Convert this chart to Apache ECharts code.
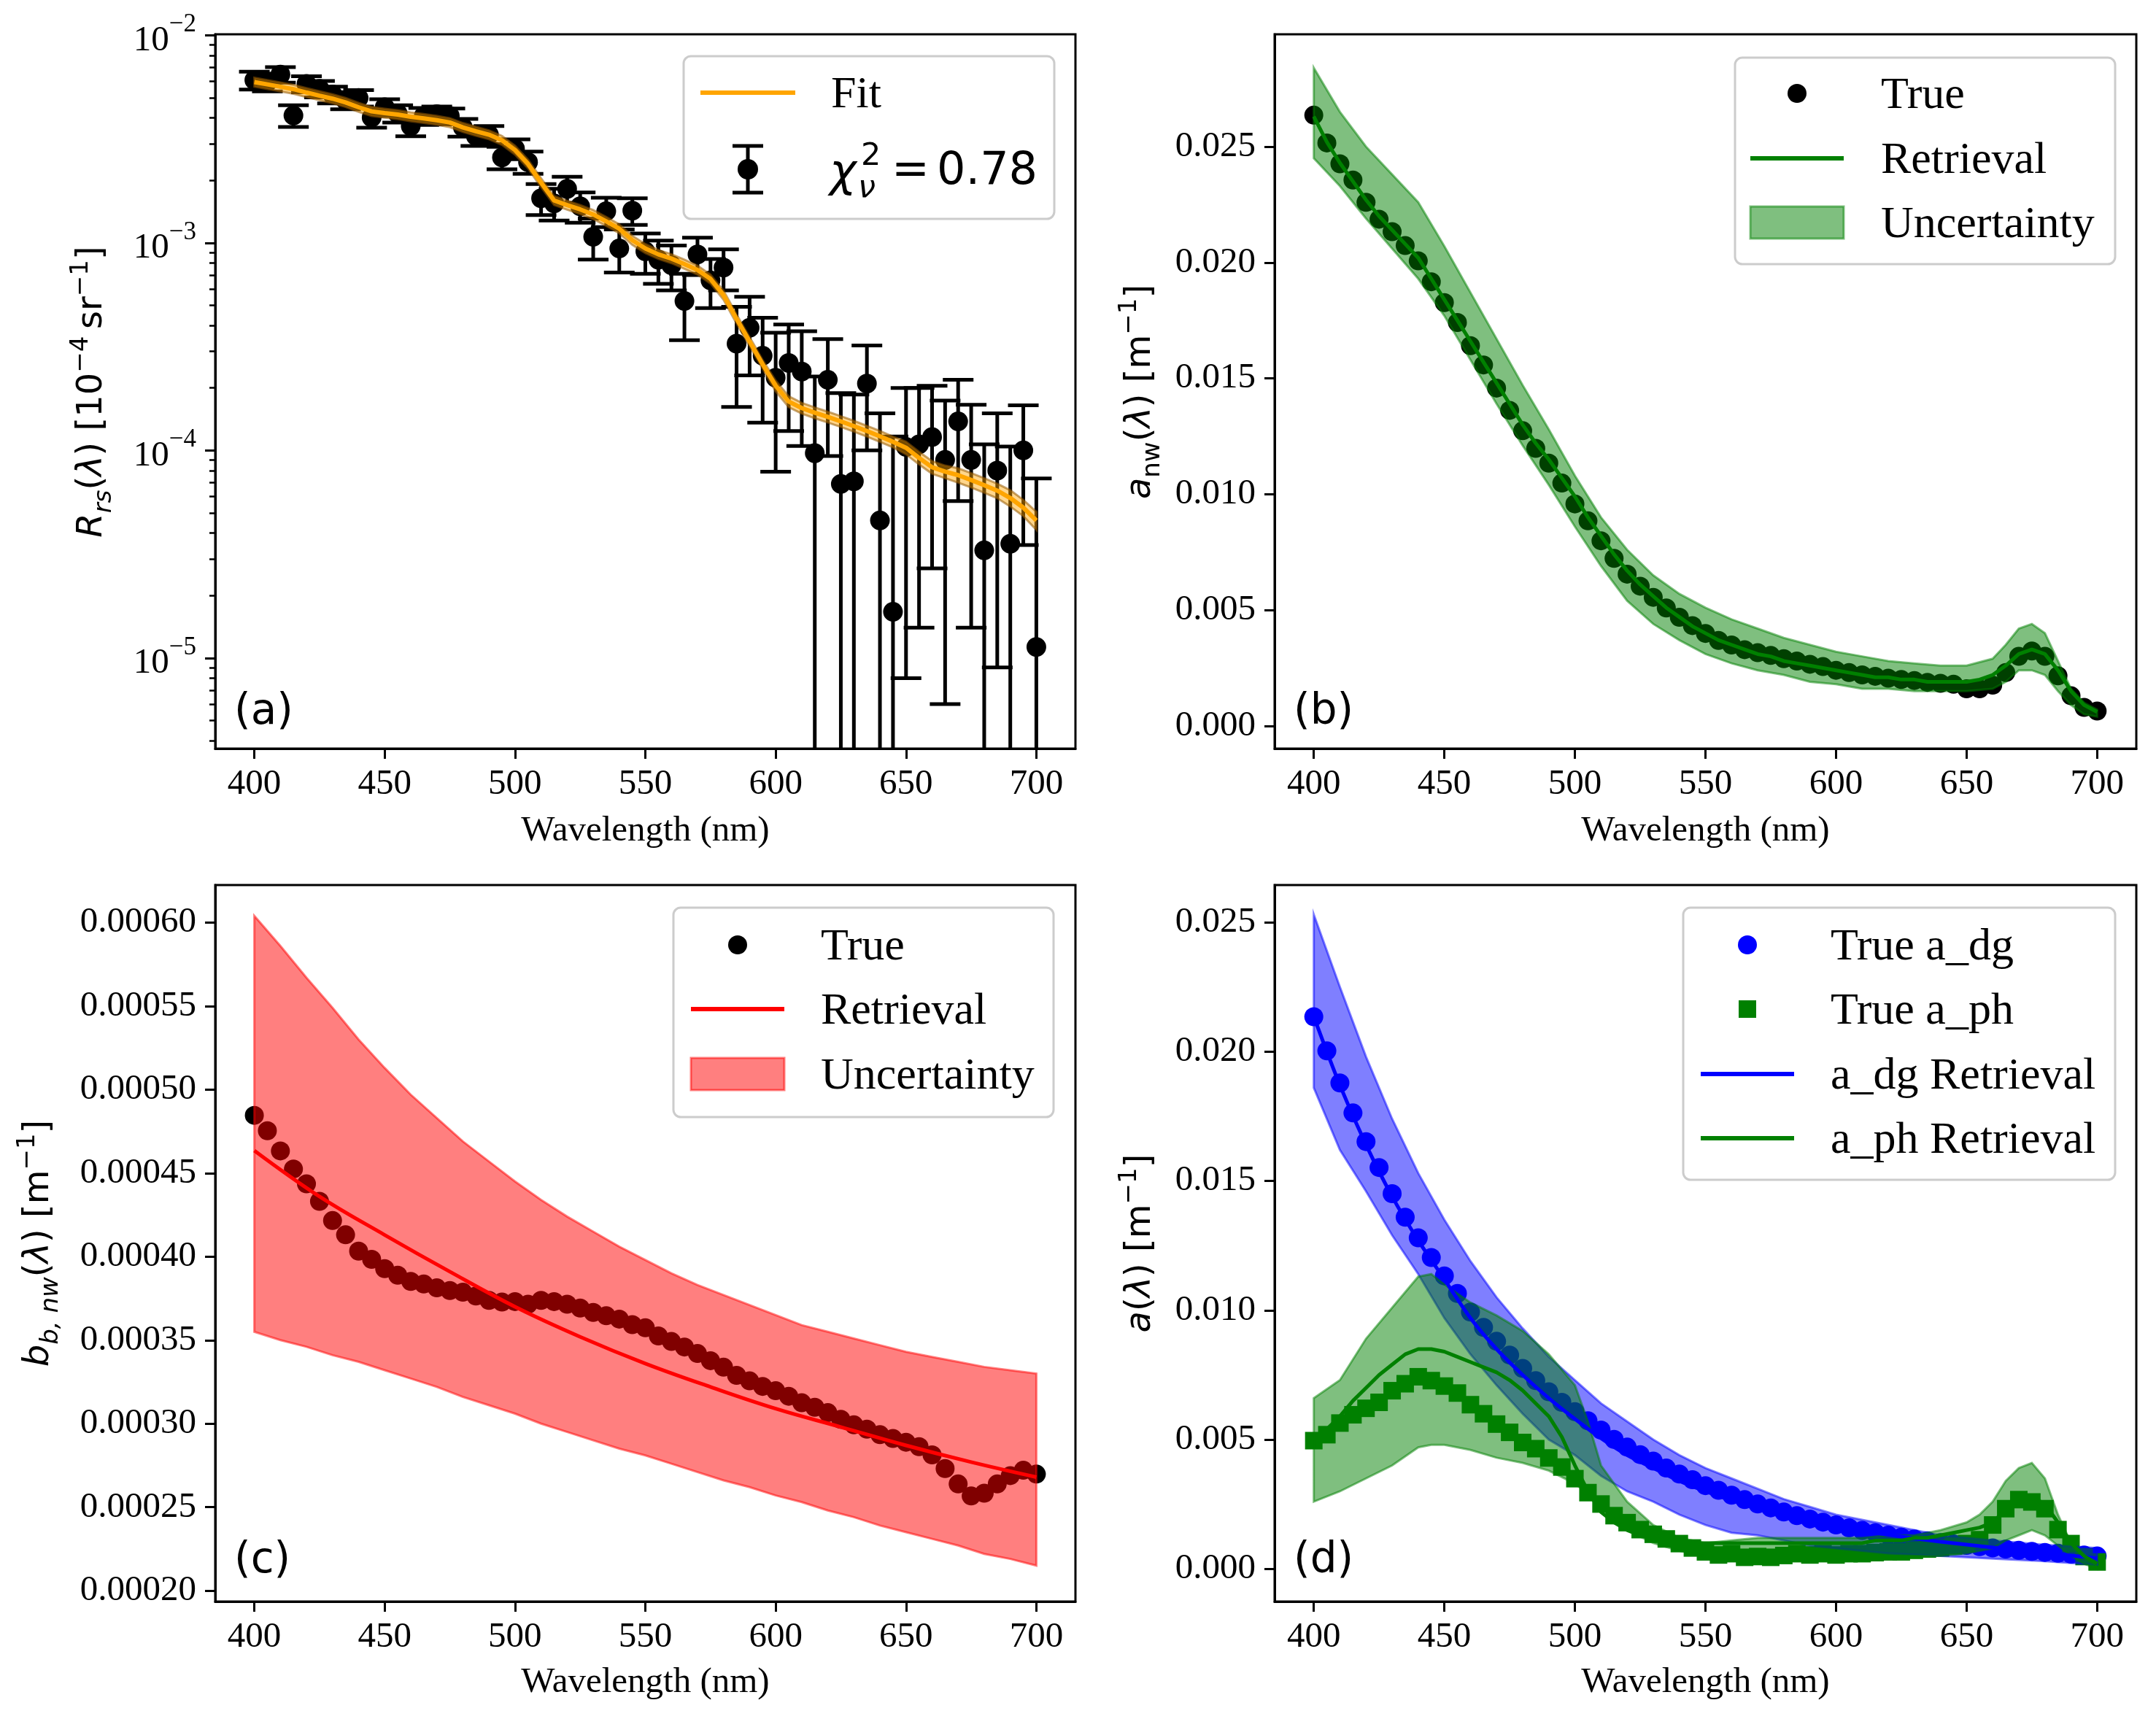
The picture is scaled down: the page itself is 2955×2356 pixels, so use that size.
<!DOCTYPE html>
<html><head><meta charset="utf-8">
<script src="https://cdn.jsdelivr.net/npm/echarts@6/dist/echarts.min.js"></script>
<style>html,body{margin:0;padding:0;background:#fff}#c{width:2955px;height:2356px}</style>
</head><body><div id="c"></div><script>
// ---------------- DATA ----------------
const wl = [400,405,410,415,420,425,430,435,440,445,
  450,455,460,465,470,475,480,485,490,495,
  500,505,510,515,520,525,530,535,540,545,
  550,555,560,565,570,575,580,585,590,595,
  600,605,610,615,620,625,630,635,640,645,
  650,655,660,665,670,675,680,685,690,695,
  700];

// (a) Rrs observations, 1-sigma errors, fit and relative fit band width
const rsObs = [6.08e-3,5.95e-3,6.47e-3,4.11e-3,5.83e-3,5.52e-3,5.18e-3,4.86e-3,4.99e-3,4.02e-3,
  4.50e-3,4.20e-3,3.65e-3,4.08e-3,4.17e-3,4.08e-3,3.60e-3,3.27e-3,3.32e-3,2.58e-3,
  2.84e-3,2.45e-3,1.64e-3,1.55e-3,1.82e-3,1.50e-3,1.07e-3,1.42e-3,9.4e-4,1.43e-3,
  9.1e-4,8.3e-4,7.8e-4,5.25e-4,8.8e-4,6.6e-4,7.6e-4,3.27e-4,3.9e-4,2.86e-4,
  2.24e-4,2.64e-4,2.4e-4,9.7e-5,2.19e-4,6.9e-5,7.1e-5,2.1e-4,4.6e-5,1.67e-5,
  1.04e-4,1.07e-4,1.16e-4,9.0e-5,1.38e-4,9.0e-5,3.3e-5,8.0e-5,3.55e-5,1.0e-4,
  1.13e-5];
const rsErr = [6.0e-4,5.8e-4,5.6e-4,4.9e-4,5.2e-4,5.0e-4,4.8e-4,4.6e-4,4.5e-4,4.3e-4,
  4.2e-4,4.0e-4,3.9e-4,3.8e-4,3.7e-4,3.6e-4,3.5e-4,3.4e-4,3.3e-4,3.2e-4,
  3.1e-4,3.0e-4,2.8e-4,2.7e-4,2.6e-4,2.5e-4,2.4e-4,2.3e-4,2.2e-4,2.1e-4,
  2.0e-4,1.95e-4,1.9e-4,1.85e-4,1.8e-4,1.75e-4,1.7e-4,1.65e-4,1.6e-4,1.5e-4,
  1.45e-4,1.4e-4,1.35e-4,1.3e-4,1.25e-4,1.2e-4,1.15e-4,1.1e-4,1.05e-4,1.0e-4,
  9.6e-5,9.3e-5,8.9e-5,8.4e-5,8.1e-5,7.6e-5,7.4e-5,7.1e-5,6.9e-5,6.5e-5,
  6.2e-5];
const rsFit = [5.95e-3,5.80e-3,5.65e-3,5.50e-3,5.30e-3,5.12e-3,4.95e-3,4.75e-3,4.50e-3,4.30e-3,
  4.22e-3,4.15e-3,4.05e-3,3.98e-3,3.90e-3,3.80e-3,3.60e-3,3.45e-3,3.32e-3,3.12e-3,
  2.80e-3,2.40e-3,1.95e-3,1.60e-3,1.52e-3,1.45e-3,1.37e-3,1.27e-3,1.17e-3,1.03e-3,
  9.4e-4,8.8e-4,8.4e-4,7.9e-4,7.4e-4,6.7e-4,5.6e-4,4.3e-4,3.35e-4,2.6e-4,
  2.05e-4,1.72e-4,1.60e-4,1.52e-4,1.45e-4,1.38e-4,1.31e-4,1.24e-4,1.17e-4,1.10e-4,
  1.03e-4,9.2e-5,8.3e-5,7.9e-5,7.6e-5,7.2e-5,6.8e-5,6.4e-5,5.9e-5,5.3e-5,
  4.6e-5];
const rsFitFrac = [0.05,0.05,0.05,0.05,0.05,0.05,0.05,0.05,0.05,0.05,
  0.05,0.05,0.05,0.05,0.05,0.05,0.05,0.05,0.05,0.05,
  0.05,0.05,0.05,0.05,0.05,0.05,0.05,0.05,0.05,0.05,
  0.05,0.05,0.05,0.05,0.05,0.05,0.05,0.05,0.05,0.05,
  0.06,0.06,0.06,0.06,0.06,0.06,0.06,0.06,0.06,0.06,
  0.07,0.07,0.07,0.07,0.08,0.08,0.08,0.08,0.09,0.09,
  0.10];

// (b) a_nw
const anwTrue = [.02636,.02516,.02426,.02356,.02260,.02187,.02133,.02073,.02007,.01917,
  .01827,.01741,.01641,.01558,.01458,.01362,.01274,.01198,.01134,.01048,
  .00958,.00885,.00799,.00723,.00655,.00603,.00555,.00509,.00469,.00433,
  .00399,.00369,.00349,.00329,.00316,.00304,.00290,.00280,.00266,.00256,
  .00240,.00230,.00220,.00214,.00206,.00200,.00196,.00188,.00184,.00180,
  .00160,.00160,.00176,.00230,.00300,.00323,.00300,.00216,.00130,.00080,
  .00064];
const anwRet = [.0263,.0252,.0243,.0235,.0227,.0220,.0214,.0208,.0202,.0193,
  .0184,.0175,.0166,.0157,.0148,.0139,.0130,.0122,.0115,.0107,
  .0099,.0090,.0082,.0074,.0067,.0061,.0056,.0051,.0047,.0043,
  .0040,.0037,.0035,.0033,.0031,.0030,.0028,.0027,.0026,.0025,
  .0024,.0023,.0022,.0021,.0021,.0020,.0020,.0019,.0019,.0019,
  .0019,.0020,.0022,.0026,.0031,.0033,.0031,.0024,.0015,.0009,
  .0006];
const anwBandWl = [400,410,420,430,440,450,460,470,480,490,500,510,520,530,540,550,560,570,580,590,600,610,620,630,640,650,
  660,665,670,675,680,685,690,695,700];
const anwUp = [.0284,.0265,.0250,.0238,.0226,.0207,.0187,.0167,.0147,.0128,.0108,.0090,.0076,.0065,.0057,.0051,.0046,.0042,.0038,.0035,.0032,.0030,.0028,.0027,.0026,.0026,
  .0029,.0035,.0042,.0044,.0040,.0028,.0016,.0010,.0007];
const anwLo = [.0245,.0233,.0219,.0206,.0193,.0177,.0158,.0139,.0121,.0104,.0086,.0069,.0054,.0044,.0037,.0031,.0027,.0024,.0022,.0019,.0018,.0016,.0016,.0015,.0015,.0015,
  .0016,.0019,.0024,.0024,.0022,.0015,.0009,.0005,.0004];

// (c) b_b,nw
const bbTrue = [.0004846,.0004754,.0004633,.0004525,.0004436,.0004331,.0004216,.0004131,.0004033,.0003984,
  .0003928,.0003889,.0003852,.0003836,.0003813,.0003797,.0003787,.0003764,.0003738,.0003728,
  .0003731,.0003715,.0003738,.0003731,.0003715,.0003692,.0003666,.0003646,.0003626,.0003593,
  .0003574,.0003525,.0003492,.0003459,.0003420,.0003377,.0003338,.0003289,.0003256,.0003223,
  .0003197,.0003164,.0003125,.0003098,.0003066,.0003026,.0002993,.0002967,.0002934,.0002911,
  .0002889,.0002862,.0002813,.0002731,.0002639,.0002567,.0002584,.0002639,.0002689,.0002721,
  .0002698];
const bbRetWl = [400,425,450,475,500,525,550,575,600,625,650,675,700];
const bbRet = [.0004635,.000436,.000413,.000391,.000370,.000352,.000336,.000322,.000309,.000298,.000287,.000277,.000268];
const bbBandWl = [400,410,420,430,440,450,460,470,480,490,500,510,520,530,540,550,560,570,580,590,600,610,620,630,640,650,660,670,680,690,700];
const bbUp = [.000604,.000586,.000567,.000549,.000530,.000513,.000497,.000483,.000469,.000457,.000445,.000434,.000424,.000415,.000406,.000398,.000390,.000383,.000377,.000371,.000365,.000359,.000355,.000351,.000347,.000343,.000340,.000337,.000334,.000332,.000330];
const bbLo = [.000355,.000350,.000346,.000341,.000337,.000332,.000327,.000322,.000316,.000311,.000306,.000300,.000295,.000290,.000285,.000281,.000276,.000271,.000266,.000262,.000257,.000253,.000248,.000244,.000239,.000235,.000231,.000227,.000222,.000219,.000215];

// (d) a_dg and a_ph
const adgTrue = [.02135,.02003,.01879,.01763,.01652,.01552,.01451,.01360,.01280,.01204,
  .01133,.01065,.00993,.00934,.00880,.00827,.00775,.00728,.00685,.00644,
  .00608,.00573,.00537,.00501,.00471,.00442,.00417,.00390,.00367,.00345,
  .00322,.00304,.00285,.00268,.00251,.00236,.00220,.00206,.00193,.00181,
  .00170,.00159,.00149,.00140,.00131,.00123,.00116,.00109,.00102,.00097,
  .00091,.00086,.00081,.00077,.00072,.00068,.00064,.00061,.00057,.00054,
  .00050];
const aphTrue = [.00496,.00519,.00564,.00596,.00621,.00644,.00689,.00716,.00743,.00728,
  .00707,.00680,.00635,.00600,.00560,.00528,.00489,.00465,.00429,.00394,
  .00349,.00295,.00251,.00206,.00179,.00152,.00134,.00116,.00098,.00081,
  .00066,.00054,.00059,.00045,.00048,.00045,.00052,.00059,.00054,.00059,
  .00054,.00059,.00059,.00063,.00066,.00066,.00072,.00077,.00081,.00089,
  .00098,.00113,.00170,.00233,.00268,.00259,.00233,.00152,.00098,.00048,
  .00027];
const adgRetWl = [400,410,420,430,440,450,460,470,480,490,500,510,520,530,540,550,560,570,580,590,600,610,620,630,640,650,660,670,680,690,700];
const adgRet = [.02135,.01870,.01640,.01440,.01270,.01120,.00970,.00850,.00750,.00660,.00580,.00505,.00440,.00390,.00340,.00300,.00265,.00235,.00210,.00185,.00165,.00148,.00132,.00118,.00105,.00094,.00083,.00072,.00062,.00052,.00041];
const aphRet = [.0050,.0054,.0059,.0065,.0070,.0075,.0079,.0083,.0085,.0085,
  .0084,.0082,.0080,.0078,.0076,.0073,.0069,.0064,.0059,.0051,
  .0040,.0030,.0022,.0018,.0015,.0013,.0012,.0011,.0011,.0010,
  .0010,.0010,.0010,.0010,.0010,.0010,.0010,.0010,.0010,.0010,
  .0010,.0010,.0010,.0011,.0011,.0011,.0012,.0012,.0013,.0014,
  .0015,.0016,.0018,.0023,.0028,.0028,.0025,.0018,.0010,.0005,
  .0002];
const adgBandWl = [400,410,420,430,440,450,460,470,480,490,500,510,520,530,540,550,560,570,580,590,600,620,640,660,680,700];
const adgUp = [.0253,.0225,.0198,.0174,.0153,.0135,.0119,.0105,.0093,.0082,.0073,.0064,.0057,.0050,.0044,.0039,.0035,.0031,.0027,.0024,.0021,.0017,.0013,.0011,.00093,.00081];
const adgLo = [.0186,.0162,.0146,.0129,.0114,.0097,.0083,.0071,.0060,.0050,.0044,.0036,.0030,.0026,.0021,.0017,.0014,.0013,.0011,.0009,.0008,.0006,.0005,.0004,.0003,.00016];
const aphBandWl = [400,410,420,430,440,445,450,460,470,480,490,500,505,510,520,530,540,550,560,570,580,590,600,610,620,630,640,650,655,660,665,670,675,680,685,690,695,700];
const aphUp = [.0066,.0073,.0089,.0101,.0113,.0114,.0110,.0103,.0098,.0092,.0083,.0071,.0057,.0040,.0026,.0017,.0012,.0010,.0011,.0012,.0012,.0012,.0012,.0012,.0013,.0013,.0015,.0018,.0021,.0026,.0034,.0039,.0041,.0035,.0021,.0010,.0004,.0001];
const aphLo = [.0026,.0030,.0035,.0040,.0047,.0048,.0048,.0046,.0043,.0041,.0038,.0033,.0029,.0024,.0015,.0010,.0007,.0005,.0005,.0005,.0005,.0005,.0005,.0005,.0005,.0005,.0005,.0006,.0007,.0008,.0011,.0013,.0015,.0013,.0009,.0005,.0002,.0000];

// tick values
const xTicks = [400,450,500,550,600,650,700];
const rsMajorTicks = [1e-5,1e-4,1e-3,1e-2];
const rsMinorTicks = [4e-6,5e-6,6e-6,7e-6,8e-6,9e-6,2e-5,3e-5,4e-5,5e-5,6e-5,7e-5,8e-5,9e-5,
  2e-4,3e-4,4e-4,5e-4,6e-4,7e-4,8e-4,9e-4,2e-3,3e-3,4e-3,5e-3,6e-3,7e-3,8e-3,9e-3];
const anwTicks = [0,0.005,0.010,0.015,0.020,0.025];
const bbTicks = [0.00020,0.00025,0.00030,0.00035,0.00040,0.00045,0.00050,0.00055,0.00060];
const aTicks = [0,0.005,0.010,0.015,0.020,0.025];

// ---------------- STYLE / LAYOUT ----------------
const SERIF = "'Liberation Serif','Times New Roman',serif";
const SANS = "'DejaVu Sans',sans-serif";
const TICKFS = 49;
const RS_MIN = Math.log10(3.66e-6), RS_MAX = Math.log10(0.01011);
const L1 = 295, L2 = 1747, W1 = 1179, W2 = 1181, T1 = 47, H1 = 979, T2 = 1213, H2 = 982;
const lg = v => Math.log10(v);
const id = v => v;

function xAx(g){
  return {type:'value', gridIndex:g, min:385, max:715,
    axisLine:{show:true, onZero:false, lineStyle:{color:'#000', width:3}},
    axisTick:{show:true, customValues:xTicks, length:14, lineStyle:{color:'#000', width:3}},
    axisLabel:{show:true, customValues:xTicks, color:'#000', fontFamily:SERIF, fontSize:TICKFS, margin:25},
    splitLine:{show:false}};
}
function yAx(g, min, max, ticks, dec){
  return {type:'value', gridIndex:g, min:min, max:max,
    axisLine:{show:true, onZero:false, lineStyle:{color:'#000', width:3}},
    axisTick:{show:true, customValues:ticks, length:14, lineStyle:{color:'#000', width:3}},
    axisLabel:{show:true, customValues:ticks, color:'#000', fontFamily:SERIF, fontSize:TICKFS, margin:26,
      formatter: v => Number(v).toFixed(dec)},
    splitLine:{show:false}};
}
function bandSeries(xi, yi, wls, lo, hi, fill, stroke, z, tf){
  return {type:'custom', xAxisIndex:xi, yAxisIndex:yi, z:z, silent:true,
    encode:{x:0, y:[1,2]},
    data: wls.map((w,i)=>[w, tf(Math.max(lo[i],1e-12)), tf(hi[i])]),
    renderItem:(params, api)=>{
      if (params.dataIndex !== 0) return null;
      const pts = [];
      for (let i=0;i<wls.length;i++) pts.push(api.coord([wls[i], tf(hi[i])]));
      for (let i=wls.length-1;i>=0;i--) pts.push(api.coord([wls[i], tf(Math.max(lo[i],1e-12))]));
      return {type:'polygon', shape:{points:pts}, style:{fill:fill, stroke:stroke, lineWidth:3}};
    }};
}
function lineSeries(xi, yi, wls, vals, color, width, z, tf, smooth){
  return {type:'line', xAxisIndex:xi, yAxisIndex:yi, z:z, silent:true, showSymbol:false, symbol:'none',
    smooth: smooth || false,
    data: wls.map((w,i)=>[w, tf(vals[i])]),
    lineStyle:{color:color, width:width}, itemStyle:{color:color}};
}
function scatterSeries(xi, yi, wls, vals, color, symbol, size, z, tf){
  return {type:'scatter', xAxisIndex:xi, yAxisIndex:yi, z:z, silent:true,
    symbol:symbol, symbolSize:size,
    data: wls.map((w,i)=>[w, tf(vals[i])]),
    itemStyle:{color:color, opacity:1}};
}

const errSeries = {type:'custom', xAxisIndex:0, yAxisIndex:0, z:2, silent:true,
  encode:{x:0, y:1},
  data: wl.map((w,i)=>[w, lg(rsObs[i]), rsObs[i], rsErr[i]]),
  renderItem:(params, api)=>{
    const w = api.value(0), v = api.value(2), s = api.value(3);
    const pHi = api.coord([w, lg(v + s)]);
    const yBottom = api.coord([w, RS_MIN])[1];
    const lo = v - s;
    let yLo = yBottom, loCap = false;
    if (lo > 0 && lg(lo) > RS_MIN) { yLo = api.coord([w, lg(lo)])[1]; loCap = true; }
    const x = pHi[0], cw = 21;
    const st = {stroke:'#000', lineWidth:5};
    const ch = [
      {type:'line', shape:{x1:x, y1:pHi[1], x2:x, y2:yLo}, style:st},
      {type:'line', shape:{x1:x-cw, y1:pHi[1], x2:x+cw, y2:pHi[1]}, style:st}
    ];
    if (loCap) ch.push({type:'line', shape:{x1:x-cw, y1:yLo, x2:x+cw, y2:yLo}, style:st});
    return {type:'group', children:ch};
  }};

const series = [
  // (a)
  errSeries,
  scatterSeries(0,0,wl,rsObs,'#000','circle',27,3,lg),
  bandSeries(0,0,wl, rsFit.map((f,i)=>f*(1-rsFitFrac[i])), rsFit.map((f,i)=>f*(1+rsFitFrac[i])),
    'rgba(255,165,0,0.45)','rgba(150,90,0,0.55)',4,lg),
  lineSeries(0,0,wl,rsFit,'#ffa500',6,5,lg),
  // (b)
  scatterSeries(1,2,wl,anwTrue,'#000','circle',26,2,id),
  bandSeries(1,2,anwBandWl,anwLo,anwUp,'rgba(0,128,0,0.5)','rgba(0,128,0,0.5)',3,id),
  lineSeries(1,2,wl,anwRet,'#008000',5,4,id),
  // (c)
  scatterSeries(2,3,wl,bbTrue,'#000','circle',26,2,id),
  bandSeries(2,3,bbBandWl,bbLo,bbUp,'rgba(255,0,0,0.5)','rgba(255,0,0,0.5)',3,id),
  lineSeries(2,3,bbRetWl,bbRet,'#ff0000',5,4,id,0.4),
  // (d)
  scatterSeries(3,4,wl,adgTrue,'#0000ff','circle',26,2,id),
  scatterSeries(3,4,wl,aphTrue,'#008000','rect',24,2,id),
  bandSeries(3,4,adgBandWl,adgLo,adgUp,'rgba(0,0,255,0.5)','rgba(0,0,255,0.5)',3,id),
  bandSeries(3,4,aphBandWl,aphLo,aphUp,'rgba(0,128,0,0.5)','rgba(0,128,0,0.5)',3,id),
  lineSeries(3,4,adgRetWl,adgRet,'#0000ff',5,4,id,0.3),
  lineSeries(3,4,wl,aphRet,'#008000',5,4,id)
];

// ---------------- GRAPHIC (titles, legends, labels) ----------------
const titleRich = {
  n:{fontFamily:SANS, fontSize:48, lineHeight:66, verticalAlign:'middle', fill:'#000'},
  i:{fontFamily:SANS, fontSize:48, lineHeight:66, verticalAlign:'middle', fontStyle:'italic', fill:'#000'},
  sub:{fontFamily:SANS, fontSize:34, lineHeight:34, verticalAlign:'bottom', fontStyle:'italic', fill:'#000'},
  subn:{fontFamily:SANS, fontSize:34, lineHeight:34, verticalAlign:'bottom', fill:'#000'},
  sup:{fontFamily:SANS, fontSize:34, lineHeight:34, verticalAlign:'top', fill:'#000'}
};
function yTitle(x, y, txt){
  return {type:'text', x:x, y:y, rotation:Math.PI/2, z:50,
    style:{text:txt, rich:titleRich, align:'center', verticalAlign:'middle'}};
}
function txt(x, y, t, font, size, italic){
  return {type:'text', x:x, y:y, z:60,
    style:{text:t, fontFamily:font, fontSize:size, fontStyle: italic ? 'italic' : 'normal',
      fill:'#000', align:'left', verticalAlign:'middle'}};
}
function ctxt(x, y, t, font, size){
  return {type:'text', x:x, y:y, z:60,
    style:{text:t, fontFamily:font, fontSize:size, fill:'#000', align:'center', verticalAlign:'middle'}};
}
function box(x, y, w, h){
  return {type:'rect', z:55, shape:{x:x, y:y, width:w, height:h, r:10},
    style:{fill:'rgba(255,255,255,0.8)', stroke:'#cccccc', lineWidth:3}};
}
function hLine(x1, x2, y, color){
  return {type:'line', z:60, shape:{x1:x1, y1:y, x2:x2, y2:y}, style:{stroke:color, lineWidth:6}};
}
function dot(cx, cy, r, color){
  return {type:'circle', z:60, shape:{cx:cx, cy:cy, r:r}, style:{fill:color}};
}
function sq(cx, cy, s, color){
  return {type:'rect', z:60, shape:{x:cx-s/2, y:cy-s/2, width:s, height:s}, style:{fill:color}};
}
function patch(x1, x2, cy, fill){
  return {type:'rect', z:60, shape:{x:x1, y:cy-22, width:x2-x1, height:44}, style:{fill:fill, stroke:fill, lineWidth:3}};
}
const LFS = 62, DY = 4;
const graphic = [
  // axis titles
  ctxt(L1+W1/2, 1139, 'Wavelength (nm)', SERIF, TICKFS),
  ctxt(L2+W2/2, 1139, 'Wavelength (nm)', SERIF, TICKFS),
  ctxt(L1+W1/2, 2306, 'Wavelength (nm)', SERIF, TICKFS),
  ctxt(L2+W2/2, 2306, 'Wavelength (nm)', SERIF, TICKFS),
  yTitle(127, 537, '{i|R}{sub|rs}{n|(}{i|λ}{n|) [10}{sup|−4}{n|\u2009sr}{sup|−1}{n|]}'),
  yTitle(1564, 537, '{i|a}{subn|nw}{n|(}{i|λ}{n|) [m}{sup|−1}{n|]}'),
  yTitle(54, 1704, '{i|b}{sub|b, nw}{n|(}{i|λ}{n|) [m}{sup|−1}{n|]}'),
  yTitle(1564, 1704, '{i|a}{n|(}{i|λ}{n|) [m}{sup|−1}{n|]}'),
  // panel letters
  txt(321, 977, '(a)', SANS, 58),
  txt(1773, 977, '(b)', SANS, 58),
  txt(321, 2140, '(c)', SANS, 58),
  txt(1773, 2140, '(d)', SANS, 58),
  // legend (a)
  box(937, 77, 508, 223),
  hLine(960, 1090, 127, '#ffa500'),
  txt(1139, 127+DY, 'Fit', SERIF, LFS),
  {type:'line', z:60, shape:{x1:1025, y1:200, x2:1025, y2:264}, style:{stroke:'#000', lineWidth:5}},
  {type:'line', z:60, shape:{x1:1004, y1:200, x2:1046, y2:200}, style:{stroke:'#000', lineWidth:5}},
  {type:'line', z:60, shape:{x1:1004, y1:264, x2:1046, y2:264}, style:{stroke:'#000', lineWidth:5}},
  dot(1025, 232, 14, '#000'),
  txt(1137, 239, 'χ', SANS, 62, true),
  txt(1180, 215, '2', SANS, 43),
  txt(1176, 259, 'ν', SANS, 43, true),
  txt(1222, 236, '=', SANS, 62),
  txt(1284, 236, '0.78', SANS, 62),
  // legend (b)
  box(2378, 79, 521, 283),
  dot(2463, 128, 13, '#000'),
  txt(2578, 128+DY, 'True', SERIF, LFS),
  hLine(2399, 2527, 217, '#008000'),
  txt(2578, 217+DY, 'Retrieval', SERIF, LFS),
  patch(2399, 2527, 305, 'rgba(0,128,0,0.5)'),
  txt(2578, 305+DY, 'Uncertainty', SERIF, LFS),
  // legend (c)
  box(923, 1244, 521, 287),
  dot(1011, 1295, 13, '#000'),
  txt(1125, 1295+DY, 'True', SERIF, LFS),
  hLine(947, 1075, 1383, '#ff0000'),
  txt(1125, 1383+DY, 'Retrieval', SERIF, LFS),
  patch(947, 1075, 1472, 'rgba(255,0,0,0.5)'),
  txt(1125, 1472+DY, 'Uncertainty', SERIF, LFS),
  // legend (d)
  box(2307, 1244, 592, 373),
  dot(2395, 1295, 13, '#0000ff'),
  txt(2509, 1295+DY, 'True a_dg', SERIF, LFS),
  sq(2395, 1383, 24, '#008000'),
  txt(2509, 1383+DY, 'True a_ph', SERIF, LFS),
  hLine(2331, 2459, 1472, '#0000ff'),
  txt(2509, 1472+DY, 'a_dg Retrieval', SERIF, LFS),
  hLine(2331, 2459, 1560, '#008000'),
  txt(2509, 1560+DY, 'a_ph Retrieval', SERIF, LFS)
];

const gridStyle = {show:true, borderColor:'#000', borderWidth:3, backgroundColor:'rgba(0,0,0,0)', containLabel:false};
const option = {
  backgroundColor:'#ffffff',
  animation:false,
  grid:[
    Object.assign({left:L1, top:T1, width:W1, height:H1}, gridStyle),
    Object.assign({left:L2, top:T1, width:W2, height:H1}, gridStyle),
    Object.assign({left:L1, top:T2, width:W1, height:H2}, gridStyle),
    Object.assign({left:L2, top:T2, width:W2, height:H2}, gridStyle)
  ],
  xAxis:[xAx(0), xAx(1), xAx(2), xAx(3)],
  yAxis:[
    {type:'value', gridIndex:0, min:RS_MIN, max:RS_MAX,
      axisLine:{show:true, onZero:false, lineStyle:{color:'#000', width:3}},
      axisTick:{show:true, customValues:rsMajorTicks.map(lg), length:14, lineStyle:{color:'#000', width:3}},
      axisLabel:{show:true, customValues:rsMajorTicks.map(lg), margin:26, color:'#000',
        formatter: v => '{b|10}{s|−' + Math.abs(Math.round(v)) + '}',
        rich:{b:{fontFamily:SERIF, fontSize:TICKFS, lineHeight:64, verticalAlign:'bottom', color:'#000'},
              s:{fontFamily:SERIF, fontSize:35, lineHeight:35, verticalAlign:'top', color:'#000'}}},
      splitLine:{show:false}},
    {type:'value', gridIndex:0, min:RS_MIN, max:RS_MAX, position:'left',
      axisLine:{show:false},
      axisTick:{show:true, customValues:rsMinorTicks.map(lg), length:8, lineStyle:{color:'#000', width:2.5}},
      axisLabel:{show:false},
      splitLine:{show:false}},
    yAx(1, -0.00098, 0.02985, anwTicks, 3),
    yAx(2, 0.0001935, 0.0006225, bbTicks, 5),
    yAx(3, -0.00126, 0.02644, aTicks, 3)
  ],
  series: series,
  graphic: graphic
};
const chart = echarts.init(document.getElementById('c'));
chart.setOption(option);
</script></body></html>
